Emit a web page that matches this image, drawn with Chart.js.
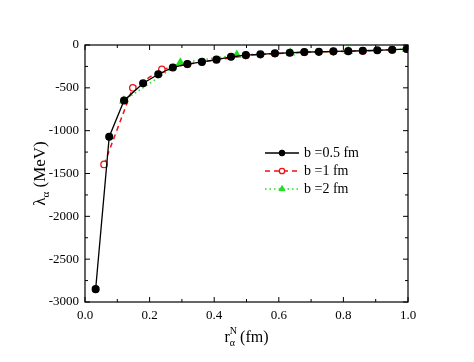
<!DOCTYPE html>
<html>
<head>
<meta charset="utf-8">
<script src="https://cdn.jsdelivr.net/npm/chart.js@4.4.0/dist/chart.umd.min.js"></script>
<style>
  html, body { margin: 0; padding: 0; background: #fff; }
  #wrap { width: 474px; height: 362px; }
</style>
</head>
<body>
<div id="wrap"><canvas id="lambda_chart" width="474" height="362"></canvas></div>
<script>
// values
var b05_x = [0.033, 0.075, 0.121, 0.180, 0.227, 0.272, 0.317, 0.362, 0.407, 0.452, 0.498,
             0.543, 0.588, 0.634, 0.679, 0.724, 0.769, 0.815, 0.860, 0.905, 0.951, 0.996];
var b05_y = [-2850, -1071, -647, -447, -341, -262, -222, -197, -170, -138, -118,
             -109, -97, -91, -82, -80, -74, -72, -67, -62, -55, -47];
var b1_x = [0.059, 0.148, 0.238, 0.317, 0.407, 0.498, 0.588, 0.679, 0.769, 0.860, 0.951];
var b1_y = [-1394, -500, -285, -226, -174, -122, -100, -86, -77, -69, -57];
var b2_x = [0.120, 0.295, 0.470, 0.636, 0.815, 0.996];
var b2_y = [-650, -207, -117, -91, -72, -47];
var labels = ['b =0.5 fm', 'b =1 fm', 'b =2 fm'];

function pts(xs, ys) {
    return xs.map(function (x, i) { return { x: x, y: ys[i] }; });
}

const serif = '"Liberation Serif", "DejaVu Serif", serif';

const dt = {
    datasets: [
    {
        label: labels[0],
        data: pts(b05_x, b05_y),
        borderColor: '#000000',
        backgroundColor: '#000000',
        borderWidth: 1.3,
        pointStyle: 'circle',
        pointRadius: 3.4,
        showLine: true
    },
    {
        label: labels[1],
        data: pts(b1_x, b1_y),
        borderColor: '#ee1111',
        backgroundColor: '#ffffff',
        pointBorderColor: '#ee1111',
        borderWidth: 1.5,
        borderDash: [5, 4],
        pointStyle: 'circle',
        pointRadius: 3.2,
        pointBorderWidth: 1.3,
        showLine: true
    },
    {
        label: labels[2],
        data: pts(b2_x, b2_y),
        borderColor: '#22dd22',
        backgroundColor: '#22dd22',
        borderWidth: 1.5,
        borderDash: [1.5, 3],
        pointStyle: 'triangle',
        pointRadius: 4,
        showLine: true
    }
    ]
};

// frame, inward ticks, legend and axis titles
const framePlugin = {
    id: 'frame',
    afterDraw: function (chart) {
        const ctx = chart.ctx;
        const a = chart.chartArea;
        const xs = chart.scales.x, ys = chart.scales.y;
        ctx.save();
        ctx.strokeStyle = '#000';
        ctx.lineWidth = 1.2;
        ctx.strokeRect(a.left, a.top, a.right - a.left, a.bottom - a.top);
        ctx.lineWidth = 1;
        ctx.beginPath();
        for (let i = 0; i <= 10; i++) {
            const px = xs.getPixelForValue(i / 10);
            const len = (i % 2 === 0) ? 5 : 3;
            ctx.moveTo(px, a.bottom); ctx.lineTo(px, a.bottom - len);
            ctx.moveTo(px, a.top); ctx.lineTo(px, a.top + len);
        }
        for (let v = 0; v >= -3000; v -= 250) {
            const py = ys.getPixelForValue(v);
            const len = (v % 500 === 0) ? 5 : 3;
            ctx.moveTo(a.left, py); ctx.lineTo(a.left + len, py);
            ctx.moveTo(a.right, py); ctx.lineTo(a.right - len, py);
        }
        ctx.stroke();

        // legend
        const rows = [153, 171, 189];
        ctx.font = '14px ' + serif;
        ctx.textBaseline = 'middle';
        chart.data.datasets.forEach(function (ds, r) {
            const y = rows[r];
            ctx.save();
            ctx.strokeStyle = ds.borderColor;
            ctx.lineWidth = ds.borderWidth;
            ctx.setLineDash(ds.borderDash || []);
            ctx.beginPath();
            ctx.moveTo(265, y); ctx.lineTo(299, y);
            ctx.stroke();
            ctx.setLineDash([]);
            ctx.fillStyle = ds.backgroundColor;
            ctx.strokeStyle = ds.pointBorderColor || ds.borderColor;
            ctx.lineWidth = ds.pointBorderWidth || 1;
            Chart.helpers.drawPoint(ctx, { pointStyle: ds.pointStyle, radius: ds.pointRadius * 0.85, borderWidth: ctx.lineWidth }, 282, y);
            ctx.restore();
            ctx.fillStyle = '#000';
            ctx.textAlign = 'left';
            ctx.fillText(ds.label, 304, y);
        });

        // y title: λα (MeV)
        ctx.save();
        ctx.fillStyle = '#000';
        ctx.translate(40, (a.top + a.bottom) / 2);
        ctx.rotate(-Math.PI / 2);
        ctx.textAlign = 'left';
        ctx.textBaseline = 'alphabetic';
        ctx.font = '17px ' + serif;
        const w1 = ctx.measureText('λ').width;
        ctx.font = '11px ' + serif;
        const w2 = ctx.measureText('α').width;
        ctx.font = '17px ' + serif;
        const w3 = ctx.measureText(' (MeV)').width;
        let sx = -(w1 + w2 + w3) / 2;
        ctx.fillText('λ', sx, 5);
        ctx.font = '11px ' + serif;
        ctx.fillText('α', sx + w1, 9);
        ctx.font = '17px ' + serif;
        ctx.fillText(' (MeV)', sx + w1 + w2, 5);
        ctx.restore();

        // x title: r_α^N (fm)
        ctx.save();
        ctx.fillStyle = '#000';
        ctx.textAlign = 'left';
        ctx.textBaseline = 'alphabetic';
        ctx.font = '16px ' + serif;
        const r1 = ctx.measureText('r').width;
        ctx.font = '10px ' + serif;
        const r2 = ctx.measureText('α').width + 1;
        ctx.font = '16px ' + serif;
        const r3 = ctx.measureText(' (fm)').width;
        const cx = (a.left + a.right) / 2;
        let tx = cx - (r1 + r2 + r3) / 2;
        const by = 342;
        ctx.fillText('r', tx, by);
        ctx.font = '10px ' + serif;
        ctx.fillText('N', tx + r1, by - 8);
        ctx.fillText('α', tx + r1, by + 4);
        ctx.font = '16px ' + serif;
        ctx.fillText(' (fm)', tx + r1 + r2, by);
        ctx.restore();
        ctx.restore();
    }
};

const config_lambda = {
    type: 'scatter',
    data: dt,
    options: {
        responsive: false,
        animation: false,
        layout: { padding: { left: 0, top: 45, right: 66, bottom: 0 } },
        plugins: { legend: { display: false }, tooltip: { enabled: false } },
        elements: { line: { tension: 0 } },
        scales: {
            x: {
                type: 'linear',
                min: 0, max: 1,
                grid: { display: false, drawTicks: false },
                border: { display: false },
                afterFit: function (s) { s.height = 60; },
                ticks: {
                    stepSize: 0.2,
                    padding: 6,
                    color: '#000',
                    font: { family: serif, size: 13 },
                    callback: function (v) { return v.toFixed(1); }
                }
            },
            y: {
                type: 'linear',
                min: -3000, max: 0,
                grid: { display: false, drawTicks: false },
                border: { display: false },
                afterFit: function (s) { s.width = 85; },
                ticks: {
                    stepSize: 500,
                    padding: 6,
                    color: '#000',
                    font: { family: serif, size: 13 },
                    callback: function (v) { return String(v); }
                }
            }
        }
    },
    plugins: [framePlugin]
};

const lambda_chart = new Chart(
    document.getElementById('lambda_chart'),
    config_lambda
);
</script>
</body>
</html>
